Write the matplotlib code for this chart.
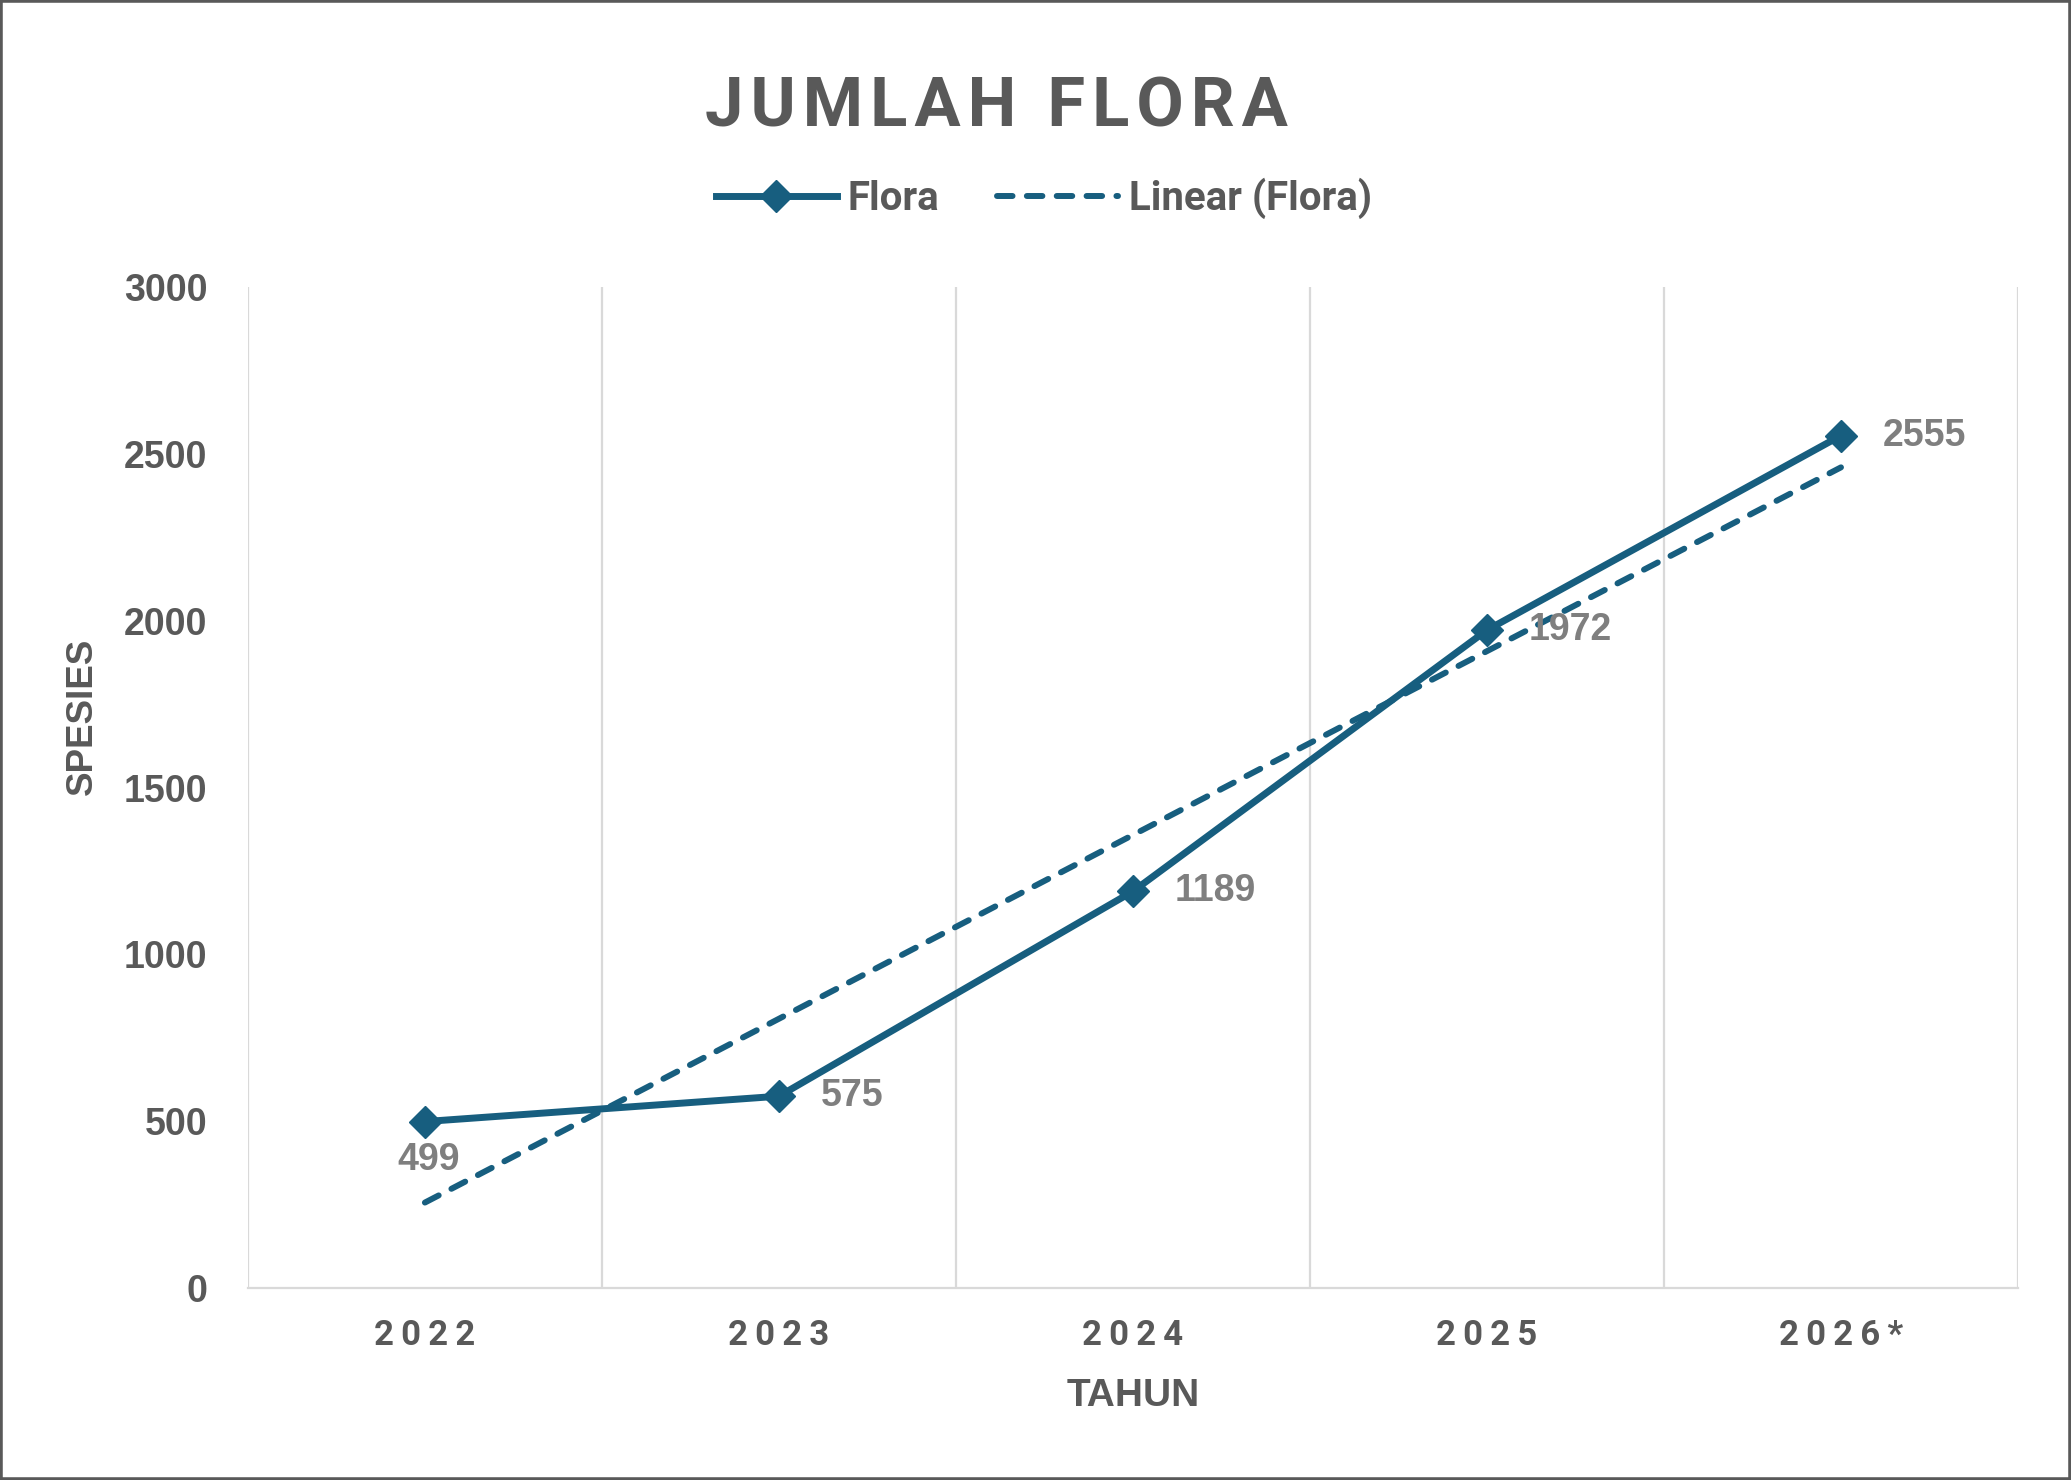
import numpy as np
import matplotlib
matplotlib.use("Agg")
import matplotlib.pyplot as plt
from matplotlib.lines import Line2D
from matplotlib.patches import Rectangle
from matplotlib.ticker import FixedLocator

# ---- data ----
years = ["2022", "2023", "2024", "2025", "2026*"]
flora = [499, 575, 1189, 1972, 2555]
yticks = [0, 500, 1000, 1500, 2000, 2500, 3000]
title = "JUMLAH FLORA"
series_name = "Flora"
trend_name = "Linear (Flora)"
xlabel = "TAHUN"
ylabel = "SPESIES"

LINE = "#175E7F"
TXT = "#595959"
LBL = "#7F7F7F"
GRID = "#D9D9D9"
ARIAL = ["Liberation Sans", "DejaVu Sans"]
COND = ["Roboto", "DejaVu Sans"]

fig = plt.figure(figsize=(20.71, 14.80), dpi=100, facecolor="white")
ax = fig.add_axes([0.1197, 0.1297, 0.8547, 0.6763])

x = np.arange(1, len(years) + 1)
ax.plot(x, flora, color=LINE, lw=5, marker="D", markersize=16,
        solid_capstyle="round", solid_joinstyle="round", zorder=4)

coef = np.polyfit(x, flora, 1)
trend = np.polyval(coef, x)
ax.plot(x, trend, color=LINE, lw=4.3, linestyle=(0, (2.6, 2.4)),
        dash_capstyle="round", zorder=3)

ax.set_xlim(0.5, len(years) + 0.5)
ax.set_ylim(0, 3000)
ax.set_yticks(yticks)
ax.set_yticklabels([str(v) for v in yticks], fontfamily=ARIAL,
                   fontweight="bold", fontsize=27, color=TXT)
ax.set_xticks(x)
ax.set_xticklabels(["\u2009".join(list(y)) for y in years], fontfamily=COND,
                   fontweight="bold", fontsize=25, color=TXT)
ax.xaxis.set_minor_locator(FixedLocator(np.arange(len(years) + 1) + 0.5))
ax.grid(which="minor", axis="x", color=GRID, lw=1.6)
ax.grid(which="major", visible=False)
ax.tick_params(axis="x", which="both", length=0, pad=22)
ax.tick_params(axis="y", length=0, pad=29)
for s in ["top", "right", "left"]:
    ax.spines[s].set_visible(False)
ax.spines["bottom"].set_color(GRID)
ax.spines["bottom"].set_linewidth(1.6)

# data labels
for i, (xi, v) in enumerate(zip(x, flora)):
    if i == 0:
        ax.annotate(str(v), (xi, v), xytext=(3, -28), textcoords="offset points",
                    ha="center", va="center", fontfamily=ARIAL, fontweight="bold",
                    fontsize=27, color=LBL, zorder=5)
    else:
        ax.annotate(str(v), (xi, v), xytext=(30, 0), textcoords="offset points",
                    ha="left", va="center", fontfamily=ARIAL, fontweight="bold",
                    fontsize=27, color=LBL, zorder=5)

fig.text(0.481, 0.927, "\u200a".join(title), ha="center", va="center",
         fontfamily=COND, fontweight="bold", fontsize=49.5, color=TXT)
fig.text(0.547, 0.057, xlabel, ha="center", va="center", fontfamily=ARIAL,
         fontweight="bold", fontsize=28, color=TXT)
fig.text(0.040, 0.516, ylabel, ha="center", va="center", rotation=90,
         fontfamily=ARIAL, fontweight="bold", fontsize=26.5, color=TXT)

handles = [
    Line2D([], [], color=LINE, lw=5, marker="D", markersize=16),
    Line2D([], [], color=LINE, lw=4.3, linestyle=(0, (2.6, 2.4)), dash_capstyle="round"),
]
leg = fig.legend(handles, [series_name, trend_name], loc="center",
                 bbox_to_anchor=(0.504, 0.866), ncol=2, frameon=False,
                 handlelength=3.0, handletextpad=0.26, columnspacing=1.45,
                 numpoints=1, prop={"family": COND, "weight": "bold", "size": 29})
for t in leg.get_texts():
    t.set_color(TXT)

fig.patches.append(Rectangle((0, 0), 1, 1, transform=fig.transFigure,
                             fill=False, edgecolor=TXT, lw=4, zorder=10))

fig.savefig("out.png", dpi=100, facecolor="white")
